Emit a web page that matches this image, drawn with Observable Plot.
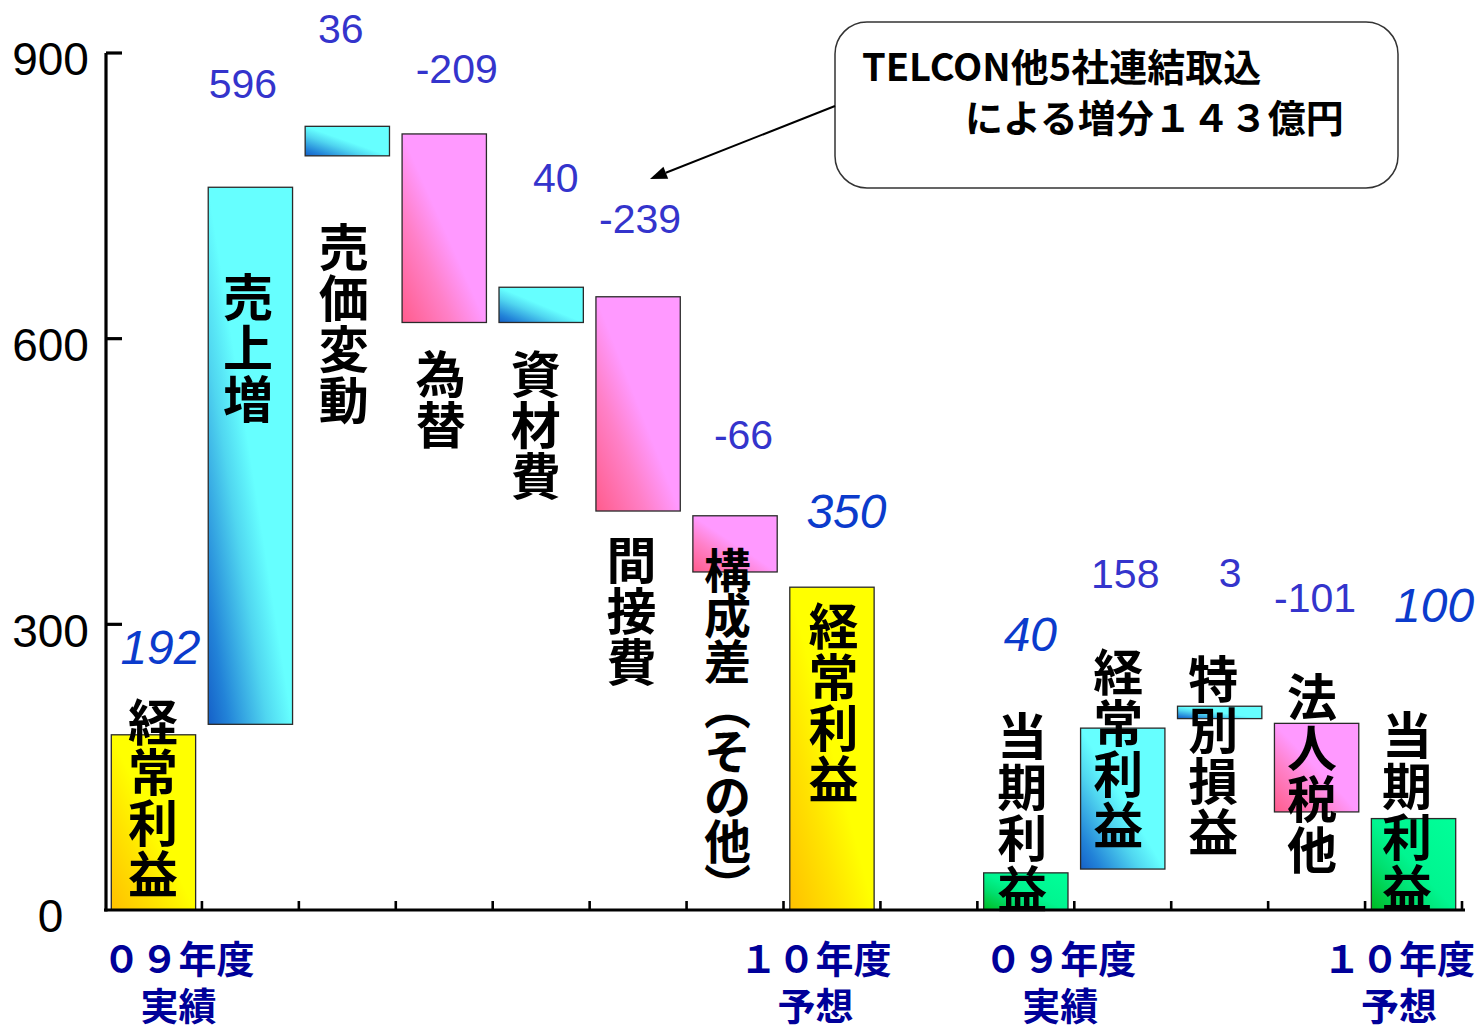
<!DOCTYPE html>
<html>
<head>
<meta charset="utf-8">
<script src="https://cdn.jsdelivr.net/npm/d3@7"></script>
<script src="https://cdn.jsdelivr.net/npm/@observablehq/plot@0.6"></script>
<style>
  html, body { margin: 0; padding: 0; background: #fff; }
  #chart { width: 1476px; height: 1030px; }
</style>
</head>
<body>
<div id="chart"></div>
<script>
// ---------------- DATA ----------------
const categories = ["経常利益(09)", "売上増", "売価変動", "為替", "資材費", "間接費", "構成差（その他）", "経常利益(10)", "空白", "当期利益(09)", "経常利益", "特別損益", "法人税他", "当期利益(10)"];
const barNames   = ["経常利益", "売上増", "売価変動", "為替", "資材費", "間接費", "構成差（その他）", "経常利益", "", "当期利益", "経常利益", "特別損益", "法人税他", "当期利益"];
const barLow     = [0, 195, 792, 617, 617, 419, 355, 0, null, 0, 43, 201, 103, 0];
const barHigh    = [184, 759, 823, 815, 654, 644, 414, 339, null, 39, 191, 214, 196, 96];
const valueLabels = ["192", "596", "36", "-209", "40", "-239", "-66", "350", "", "40", "158", "3", "-101", "100"];
const barKinds   = ["total", "up", "up", "down", "up", "down", "down", "total", "", "net", "up", "up", "down", "net"];
const yTicks = [0, 300, 600, 900];
const periodLabels = ["０９年度\n実績", "１０年度\n予想", "０９年度\n実績", "１０年度\n予想"];
const periodAt = ["経常利益(09)", "経常利益(10)", "当期利益(09)", "当期利益(10)"];
const calloutLines = ["TELCON他5社連結取込", "による増分１４３億円"];

// ---------------- LAYOUT / STYLE (pixel offsets) ----------------
const nameDx  = [-1, -3, -4, -4, -6, -7, -8, 1, 0, -4, -5, -7, -5, -7];
const nameDy  = [-31, 92, 103, 222, 69, 246, 40, 21, 0, -155, -74, -45, -44, -101];
const labelDx = [6.5, -8, -7, 12, 14, 1.5, 8, 14, 0, 4, 2, 10, -2, 20];
const labelDy = [-87, -103, -97, -65, -109, -77, -80, -75, 0, -238, -154, -133, -125, -212];
const periodDx = [24.5, -17, 34, -15];
const gradients = {
  total: [[0, "#FFC000"], [0.3, "#FFE400"], [0.5, "#FFFF00"], [1, "#FFFF00"]],
  up:    [[0, "#1560C8"], [0.12, "#2283D8"], [0.35, "#50D6F0"], [0.5, "#66FFFF"], [1, "#66FFFF"]],
  down:  [[0, "#FF5C8C"], [0.3, "#FF80C8"], [0.5, "#FF99FF"], [1, "#FF99FF"]],
  net:   [[0, "#00BB22"], [0.3, "#00E070"], [0.5, "#00F590"], [1, "#00FF99"]]
};
const CJK = "'Noto Sans CJK JP', 'Noto Sans CJK SC', sans-serif";
const LAT = "'Liberation Sans', Arial, sans-serif";

const rows = categories.map((c, i) => ({
  cat: c, i, low: barLow[i], high: barHigh[i], kind: barKinds[i],
  name: barNames[i], label: valueLabels[i]
}));
const barRows = rows.filter(d => d.high != null);
const toVertical = s => [...s.replace("（", "︵").replace("）", "︶")].join("\n");

const marks = [];
for (const k of ["total", "up", "down", "net"]) {
  marks.push(Plot.barY(barRows.filter(d => d.kind === k), {
    x: "cat", y1: "low", y2: "high",
    fill: `url(#grad-${k})`, stroke: "#2a2a2a", strokeWidth: 1.3
  }));
}
// value labels
for (const d of barRows) {
  const tot = d.kind === "total" || d.kind === "net";
  marks.push(Plot.text([d], {
    x: "cat", y: "high", text: "label",
    fontSize: tot ? 48 : 41, fontStyle: tot ? "italic" : "normal",
    fontFamily: LAT, fill: tot ? "#0B3BCC" : "#3434CC",
    dx: labelDx[d.i], dy: labelDy[d.i]
  }));
}
// y tick labels
marks.push(Plot.text(yTicks, {
  y: d => d, text: d => String(d), frameAnchor: "left",
  dx: -55, dy: 7, textAnchor: "middle", fontSize: 46, fontFamily: LAT, fill: "#000"
}));
// period labels
periodLabels.forEach((t, j) => {
  marks.push(Plot.text([t], {
    x: () => periodAt[j], y: () => 0, text: d => d,
    lineAnchor: "top", lineHeight: 1.24, dx: periodDx[j], dy: 29,
    fontSize: 38, fontWeight: 700, fontFamily: CJK, fill: "#000099"
  }));
});
// vertical category names (drawn last, over bars and axis)
for (const d of barRows) {
  const special = d.i === 6;
  marks.push(Plot.text([d], {
    x: "cat", y: "high", text: dd => toVertical(dd.name),
    lineAnchor: "top", lineHeight: special ? 0.96 : 1.02,
    fontSize: special ? 47 : 50, fontWeight: 700, fontFamily: CJK, fill: "#000",
    dx: nameDx[d.i], dy: nameDy[d.i]
  }));
}

const chart = Plot.plot({
  width: 1476, height: 1030,
  marginLeft: 105, marginRight: 14, marginTop: 53, marginBottom: 120,
  x: {domain: categories, paddingInner: 0.13, paddingOuter: 0.065, round: false, axis: null},
  y: {domain: [0, 900], axis: null},
  style: {fontFamily: LAT, background: "#fff", overflow: "visible"},
  marks
});
document.getElementById("chart").appendChild(chart);

// ---------------- overlays: gradients, axes, callout ----------------
const svg = d3.select(chart);
const defs = svg.insert("defs", ":first-child");
for (const [k, stops] of Object.entries(gradients)) {
  const g = defs.append("linearGradient").attr("id", `grad-${k}`)
    .attr("x1", 0).attr("y1", 1).attr("x2", 1).attr("y2", 0);
  for (const [o, c] of stops) g.append("stop").attr("offset", o).attr("stop-color", c);
}

const xs = chart.scale("x"), ys = chart.scale("y");
const step = xs.step ?? ((xs.range[1] - xs.range[0]) / categories.length);
const bw = xs.bandwidth ?? step * 0.87;
const gap = (step - bw) / 2;
const bounds = categories.map(c => xs.apply(c) - gap);
bounds.push(xs.apply(categories[categories.length - 1]) + bw + gap);
const x0 = bounds[0], y0 = ys.apply(0), yTop = ys.apply(900);

const axisG = svg.insert("g", "g[aria-label=text]").attr("stroke", "#000").attr("fill", "none");
axisG.append("line").attr("x1", x0 + 1).attr("x2", x0 + 1).attr("y1", yTop).attr("y2", y0 + 1.5).attr("stroke-width", 3.2);
for (const t of yTicks.slice(1)) {
  axisG.append("line").attr("x1", x0 + 1).attr("x2", x0 + 17).attr("y1", ys.apply(t)).attr("y2", ys.apply(t)).attr("stroke-width", 3.2);
}
axisG.append("line").attr("x1", x0 - 1).attr("x2", bounds[bounds.length - 1] + 3).attr("y1", y0).attr("y2", y0).attr("stroke-width", 3.2);
for (const b of bounds.slice(1)) {
  axisG.append("line").attr("x1", b).attr("x2", b).attr("y1", y0 - 9).attr("y2", y0).attr("stroke-width", 2.6);
}

// callout
const cg = svg.append("g").attr("text-anchor", "start");
cg.append("rect").attr("x", 835).attr("y", 22).attr("width", 563).attr("height", 166)
  .attr("rx", 32).attr("ry", 32).attr("fill", "#fff").attr("stroke", "#333").attr("stroke-width", 1.5);
cg.append("text").attr("x", 862).attr("y", 81).attr("text-anchor", "start").attr("font-family", CJK).attr("font-weight", 700)
  .attr("font-size", 38).attr("fill", "#000").text(calloutLines[0]);
cg.append("text").attr("x", 965).attr("y", 132).attr("text-anchor", "start").attr("font-family", CJK).attr("font-weight", 700)
  .attr("font-size", 38).attr("fill", "#000").text(calloutLines[1]);
{
  const sx = 835, sy = 106, tx = 650, ty = 179;
  const L = Math.hypot(tx - sx, ty - sy), ux = (tx - sx) / L, uy = (ty - sy) / L;
  const bx = tx - 17 * ux, by = ty - 17 * uy, px = -uy * 6.5, py = ux * 6.5;
  cg.append("line").attr("x1", sx).attr("y1", sy).attr("x2", bx).attr("y2", by)
    .attr("stroke", "#000").attr("stroke-width", 2);
  cg.append("polygon").attr("points", `${tx},${ty} ${bx + px},${by + py} ${bx - px},${by - py}`).attr("fill", "#000");
}
</script>
</body>
</html>
